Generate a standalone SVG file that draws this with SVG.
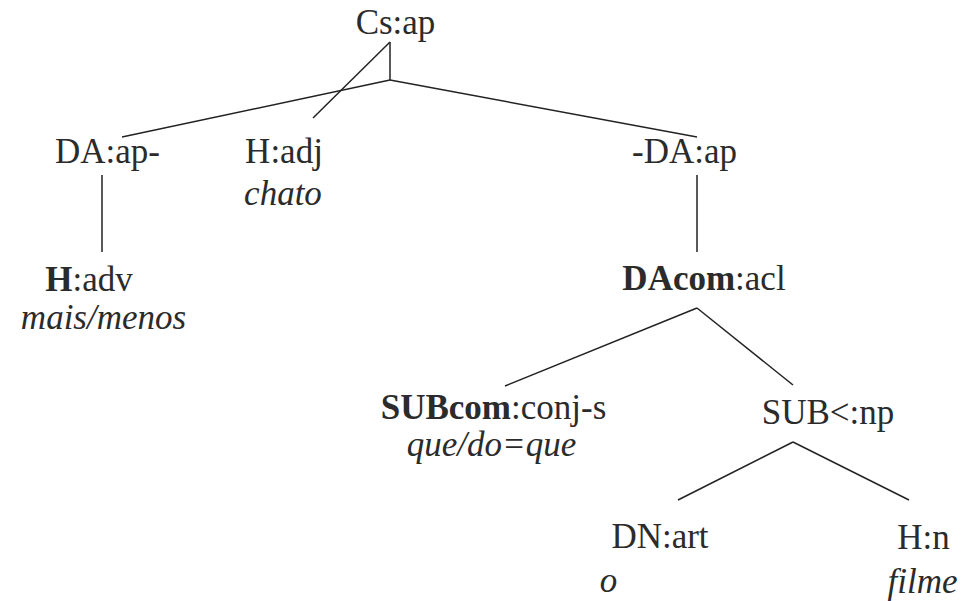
<svg xmlns="http://www.w3.org/2000/svg" width="968" height="601" viewBox="0 0 968 601">
<style>
text{font-family:'Liberation Serif','Times New Roman',serif;font-size:35px;fill:#2b2b2b;text-anchor:middle}
.b{font-weight:bold}
.i{font-style:italic}
.e line{stroke:#222;stroke-width:1.5;fill:none}
</style>
<rect width="968" height="601" fill="#fff"/>
<g class="e" id="connectors">
<line x1="390" y1="42" x2="390" y2="80"/>
<line x1="390" y1="42" x2="313" y2="118"/>
<line x1="390" y1="80" x2="122" y2="137"/>
<line x1="390" y1="80" x2="697" y2="137"/>
<line x1="102" y1="175" x2="102" y2="252"/>
<line x1="697" y1="175" x2="697" y2="252"/>
<line x1="697" y1="308" x2="505" y2="386"/>
<line x1="697" y1="308" x2="793" y2="385"/>
<line x1="793" y1="442" x2="678" y2="500"/>
<line x1="793" y1="442" x2="909" y2="500"/>
</g>
<g id="cs-ap"><text x="395.5" y="34">Cs:ap</text></g>
<g id="da-ap-left"><text x="107.5" y="163">DA:ap-</text></g>
<g id="h-adj"><text x="284" y="163">H:adj</text><text class="i" x="283" y="205">chato</text></g>
<g id="da-ap-right"><text x="684.5" y="163">-DA:ap</text></g>
<g id="h-adv"><text x="89" y="291"><tspan class="b">H</tspan>:adv</text><text class="i" x="103.5" y="329">mais/menos</text></g>
<g id="dacom-acl"><text x="704" y="290"><tspan class="b">DAcom</tspan>:acl</text></g>
<g id="subcom"><text x="493.5" y="419"><tspan class="b">SUBcom</tspan>:conj-s</text><text class="i" x="491.5" y="456">que/do=que</text></g>
<g id="sub-np"><text x="828" y="424">SUB&lt;:np</text></g>
<g id="dn-art"><text x="660" y="548">DN:art</text><text class="i" x="608.5" y="592">o</text></g>
<g id="h-n"><text x="923.5" y="549">H:n</text><text class="i" x="922.5" y="593">filme</text></g>
</svg>
